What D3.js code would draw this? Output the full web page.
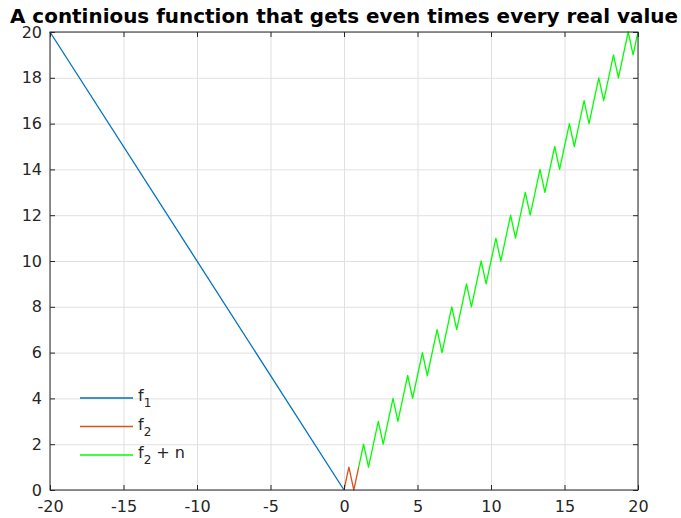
<!DOCTYPE html>
<html>
<head>
<meta charset="utf-8">
<script src="https://cdn.jsdelivr.net/npm/d3@7"></script>
<style>
  body { margin: 0; background: #fff; }
  svg { display: block; font-family: "DejaVu Sans", sans-serif; }
</style>
</head>
<body>
<svg id="chart" width="681" height="518"></svg>
<script>
// data
const xTicks = [-20, -15, -10, -5, 0, 5, 10, 15, 20];
const yTicks = [0, 2, 4, 6, 8, 10, 12, 14, 16, 18, 20];

const f1X = [-20, 0];
const f1Y = [20, 0];

const f2X = [0, 0.333, 0.667, 1];
const f2Y = [0, 1, 0, 1];

const f2nX = [1, 1.333, 1.667, 2, 2.333, 2.667, 3, 3.333, 3.667, 4, 4.333, 4.667,
  5, 5.333, 5.667, 6, 6.333, 6.667, 7, 7.333, 7.667, 8, 8.333, 8.667, 9, 9.333, 9.667,
  10, 10.333, 10.667, 11, 11.333, 11.667, 12, 12.333, 12.667, 13, 13.333, 13.667,
  14, 14.333, 14.667, 15, 15.333, 15.667, 16, 16.333, 16.667, 17, 17.333, 17.667,
  18, 18.333, 18.667, 19, 19.333, 19.667, 20];
const f2nY = [1, 2, 1, 2, 3, 2, 3, 4, 3, 4, 5, 4,
  5, 6, 5, 6, 7, 6, 7, 8, 7, 8, 9, 8, 9, 10, 9,
  10, 11, 10, 11, 12, 11, 12, 13, 12, 13, 14, 13,
  14, 15, 14, 15, 16, 15, 16, 17, 16, 17, 18, 17,
  18, 19, 18, 19, 20, 19, 20];

const series = [
  { name: "f", sub: "1", suffix: "", xs: f1X, ys: f1Y, color: "#0072BD" },
  { name: "f", sub: "2", suffix: "", xs: f2X, ys: f2Y, color: "#D95319" },
  { name: "f", sub: "2", suffix: " + n", xs: f2nX, ys: f2nY, color: "#00FF00" }
];

const svg = d3.select("#chart");
const box = { left: 50, right: 638, top: 32, bottom: 490 };
const w = box.right - box.left, h = box.bottom - box.top;
const axisColor = "#262626";

const x = d3.scaleLinear().domain([-20, 20]).range([0, w]);
const y = d3.scaleLinear().domain([0, 20]).range([h, 0]);

const g = svg.append("g").attr("transform", `translate(${box.left},${box.top})`);

// grid
g.append("g")
  .attr("transform", `translate(0,${h})`)
  .call(d3.axisBottom(x).tickValues(xTicks).tickSize(-h).tickFormat(""))
  .call(a => a.select(".domain").remove())
  .call(a => a.selectAll("line").attr("stroke", "#e0e0e0"));
g.append("g")
  .call(d3.axisLeft(y).tickValues(yTicks).tickSize(-w).tickFormat(""))
  .call(a => a.select(".domain").remove())
  .call(a => a.selectAll("line").attr("stroke", "#e0e0e0"));

// lines
const line = d3.line().x(d => x(d[0])).y(d => y(d[1]));
series.forEach(s => {
  g.append("path")
    .datum(s.xs.map((v, i) => [v, s.ys[i]]))
    .attr("fill", "none")
    .attr("stroke", s.color)
    .attr("stroke-width", 1.3)
    .attr("stroke-linejoin", "round")
    .attr("d", line);
});

// axes with inward ticks, plain hyphen minus in labels
const plain = d => String(d);
function styleAxis(a) {
  a.select(".domain").remove();
  a.selectAll("line").attr("stroke", axisColor);
  a.selectAll("text").attr("fill", axisColor).style("font-size", "16px")
    .style("font-family", "DejaVu Sans, sans-serif");
}
g.append("g").attr("transform", `translate(0,${h})`)
  .call(d3.axisBottom(x).tickValues(xTicks).tickFormat(plain)
    .tickSizeInner(-5).tickSizeOuter(0).tickPadding(11))
  .call(styleAxis);
g.append("g")
  .call(d3.axisTop(x).tickValues(xTicks).tickSizeInner(-5).tickSizeOuter(0).tickFormat(""))
  .call(styleAxis);
g.append("g")
  .call(d3.axisLeft(y).tickValues(yTicks).tickFormat(plain)
    .tickSizeInner(-5).tickSizeOuter(0).tickPadding(8))
  .call(styleAxis);
g.append("g").attr("transform", `translate(${w},0)`)
  .call(d3.axisRight(y).tickValues(yTicks).tickSizeInner(-5).tickSizeOuter(0).tickFormat(""))
  .call(styleAxis);

g.append("rect")
  .attr("width", w).attr("height", h)
  .attr("fill", "none")
  .attr("stroke", axisColor)
  .attr("stroke-width", 1);

// legend
const legend = g.append("g").attr("transform", "translate(30,366)");
series.forEach((s, i) => {
  const row = legend.append("g").attr("transform", `translate(0,${i * 28.5})`);
  row.append("line")
    .attr("x1", 0).attr("x2", 53)
    .attr("stroke", s.color).attr("stroke-width", 1.3);
  const t = row.append("text")
    .attr("x", 58).attr("y", 3)
    .attr("fill", axisColor)
    .style("font-size", "16px");
  t.append("tspan").text(s.name);
  t.append("tspan").attr("dy", 6).style("font-size", "12px").text(s.sub);
  if (s.suffix) t.append("tspan").attr("dy", -6).text(s.suffix);
});

// title
svg.append("text")
  .attr("x", (box.left + box.right) / 2)
  .attr("y", 22.5)
  .attr("text-anchor", "middle")
  .attr("fill", "#000")
  .attr("textLength", 668)
  .attr("lengthAdjust", "spacingAndGlyphs")
  .style("font-size", "19px")
  .style("font-weight", "bold")
  .text("A continious function that gets even times every real value");
</script>
</body>
</html>
